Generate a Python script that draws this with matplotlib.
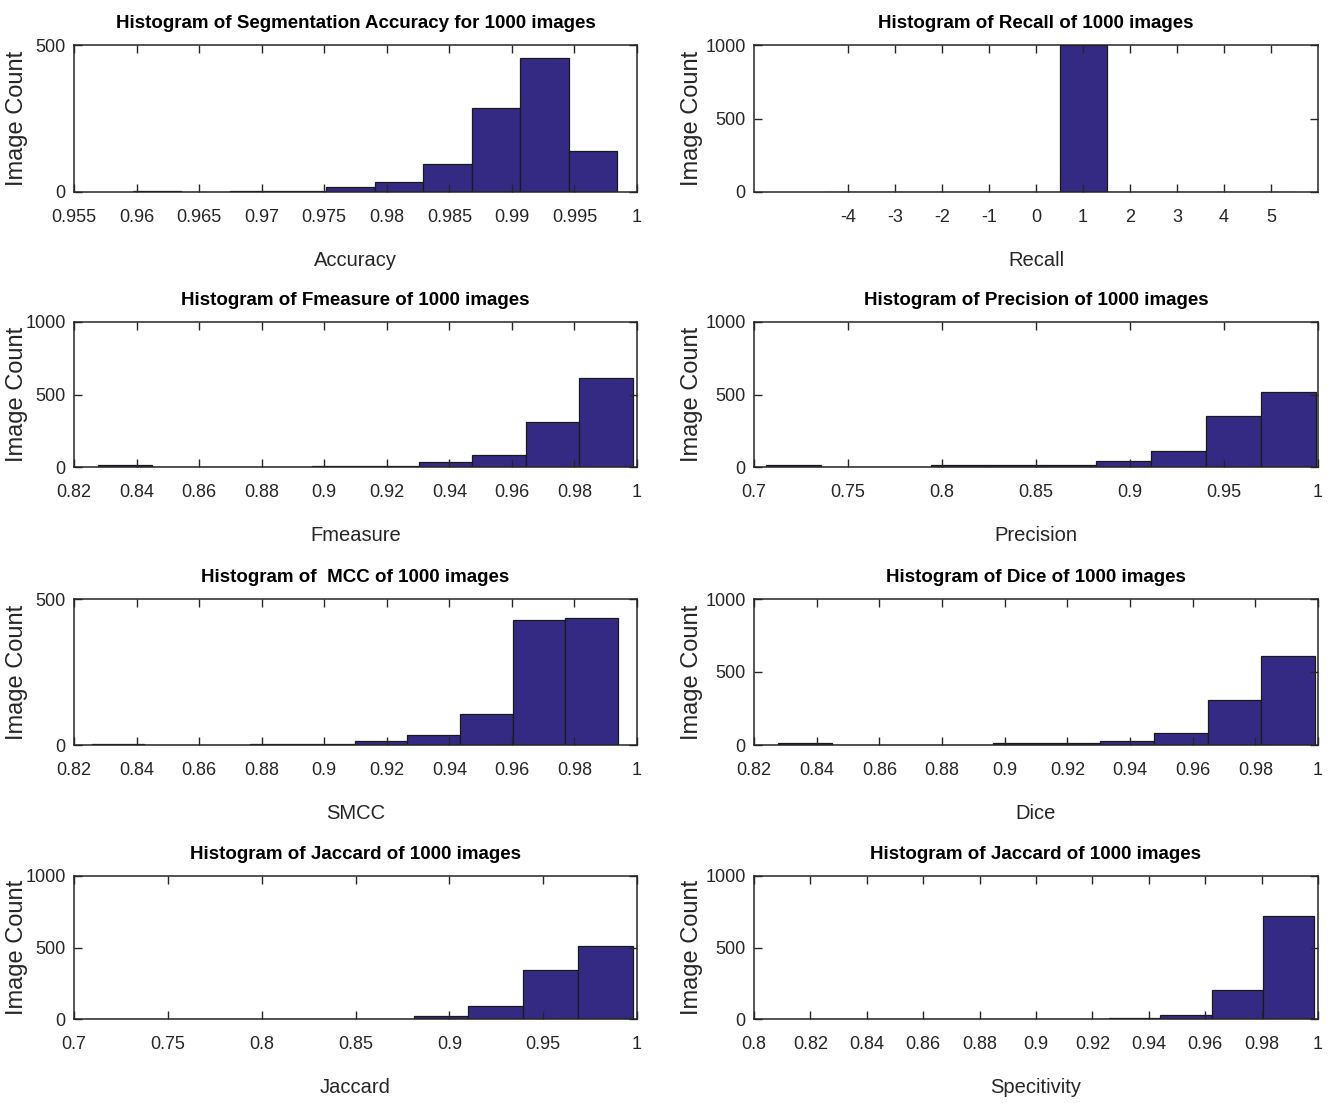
import numpy as np
import matplotlib.pyplot as plt
from matplotlib.ticker import FuncFormatter

# counts (10 bins per histogram, MATLAB hist style)
acc_lo, acc_hi = 0.9597, 0.9984
acc_counts = [5, 0, 5, 5, 16, 34, 95, 285, 456, 139]

recall_centers = [-4, -3, -2, -1, 0, 1, 2, 3, 4, 5]
recall_counts = [0, 0, 0, 0, 0, 1000, 0, 0, 0, 0]

fm_lo, fm_hi = 0.8277, 0.9987
fm_counts = [16, 0, 0, 0, 10, 10, 32, 83, 310, 614]

prec_lo, prec_hi = 0.7063, 0.9987
prec_counts = [16, 0, 0, 12, 12, 12, 41, 109, 351, 518]

mcc_lo, mcc_hi = 0.8257, 0.9939
mcc_counts = [5, 0, 0, 5, 5, 12, 33, 106, 429, 436]

dice_lo, dice_hi = 0.8278, 0.9990
dice_counts = [14, 0, 0, 0, 12, 12, 27, 82, 306, 611]

jac_lo, jac_hi = 0.7058, 0.9978
jac_counts = [1, 0, 0, 0, 0, 0, 23, 93, 340, 509]

spec_lo, spec_hi = 0.8167, 0.9987
spec_counts = [0, 0, 0, 0, 0, 0, 10, 28, 205, 722]

titles = ['Histogram of Segmentation Accuracy for 1000 images',
          'Histogram of Recall of 1000 images',
          'Histogram of Fmeasure of 1000 images',
          'Histogram of Precision of 1000 images',
          'Histogram of  MCC of 1000 images',
          'Histogram of Dice of 1000 images',
          'Histogram of Jaccard of 1000 images',
          'Histogram of Jaccard of 1000 images']
xlabels = ['Accuracy', 'Recall', 'Fmeasure', 'Precision', 'SMCC', 'Dice', 'Jaccard', 'Specitivity']

bar_color = '#342a84'
text_font = ['Liberation Sans Narrow', 'Liberation Sans', 'DejaVu Sans']

fig = plt.figure(figsize=(13.3, 11.03), dpi=100)

rows_px = [(45, 192), (322, 467), (599, 745), (876, 1019)]
cols_px = [(74, 637), (754, 1318)]
W, H = 1330.0, 1103.0

def make_ax(r, c):
    t, b = rows_px[r]
    l, rr = cols_px[c]
    return fig.add_axes([l / W, 1 - b / H, (rr - l) / W, (b - t) / H])

def fmt(v, pos):
    return '%g' % round(v, 4)

def style(ax, title, xlabel, xlim, xticks, ylim, yticks, ylab_x):
    ax.set_xlim(*xlim)
    ax.set_ylim(*ylim)
    ax.set_xticks(xticks)
    ax.set_yticks(yticks)
    ax.xaxis.set_major_formatter(FuncFormatter(fmt))
    ax.tick_params(direction='in', top=True, right=True, length=6, width=1,
                   colors='#262626', labelsize=13)
    ax.tick_params(axis='x', pad=12)
    ax.tick_params(axis='y', pad=6)
    for lab in ax.get_xticklabels() + ax.get_yticklabels():
        lab.set_family(text_font)
    for s in ax.spines.values():
        s.set_color('#262626')
        s.set_linewidth(1.1)
    ax.set_title(title, fontsize=13.5, fontweight='bold', family=text_font, pad=12)
    ax.set_xlabel(xlabel, fontsize=14.5, family=text_font, color='#262626', labelpad=18)
    ax.set_ylabel('Image Count', fontsize=17, family=['Liberation Sans', 'DejaVu Sans'],
                  color='#262626')
    ax.yaxis.set_label_coords(ylab_x, 0.5)

def hist_bars(ax, lo, hi, counts):
    edges = np.linspace(lo, hi, len(counts) + 1)
    ax.bar(edges[:-1], counts, width=np.diff(edges), align='edge',
           color=bar_color, edgecolor='#1a1a1a', linewidth=0.9)

LEFT_YL, RIGHT_YL = -0.081, -0.09

# accuracy
ax = make_ax(0, 0)
hist_bars(ax, acc_lo, acc_hi, acc_counts)
style(ax, titles[0], xlabels[0], (0.955, 1.0), np.arange(0.955, 1.0001, 0.005),
      (0, 500), [0, 500], LEFT_YL)

# recall
ax = make_ax(0, 1)
ax.bar(recall_centers, recall_counts, width=1.0, color=bar_color,
       edgecolor='#1a1a1a', linewidth=0.9)
style(ax, titles[1], xlabels[1], (-6, 6), recall_centers,
      (0, 1000), [0, 500, 1000], RIGHT_YL)

# fmeasure
ax = make_ax(1, 0)
hist_bars(ax, fm_lo, fm_hi, fm_counts)
style(ax, titles[2], xlabels[2], (0.82, 1.0), np.arange(0.82, 1.0001, 0.02),
      (0, 1000), [0, 500, 1000], LEFT_YL)

# precision
ax = make_ax(1, 1)
hist_bars(ax, prec_lo, prec_hi, prec_counts)
style(ax, titles[3], xlabels[3], (0.7, 1.0), np.arange(0.7, 1.0001, 0.05),
      (0, 1000), [0, 500, 1000], RIGHT_YL)

# mcc
ax = make_ax(2, 0)
hist_bars(ax, mcc_lo, mcc_hi, mcc_counts)
style(ax, titles[4], xlabels[4], (0.82, 1.0), np.arange(0.82, 1.0001, 0.02),
      (0, 500), [0, 500], LEFT_YL)

# dice
ax = make_ax(2, 1)
hist_bars(ax, dice_lo, dice_hi, dice_counts)
style(ax, titles[5], xlabels[5], (0.82, 1.0), np.arange(0.82, 1.0001, 0.02),
      (0, 1000), [0, 500, 1000], RIGHT_YL)

# jaccard
ax = make_ax(3, 0)
hist_bars(ax, jac_lo, jac_hi, jac_counts)
style(ax, titles[6], xlabels[6], (0.7, 1.0), np.arange(0.7, 1.0001, 0.05),
      (0, 1000), [0, 500, 1000], LEFT_YL)

# specificity
ax = make_ax(3, 1)
hist_bars(ax, spec_lo, spec_hi, spec_counts)
style(ax, titles[7], xlabels[7], (0.8, 1.0), np.arange(0.8, 1.0001, 0.02),
      (0, 1000), [0, 500, 1000], RIGHT_YL)

fig.savefig('out.png', dpi=100)
